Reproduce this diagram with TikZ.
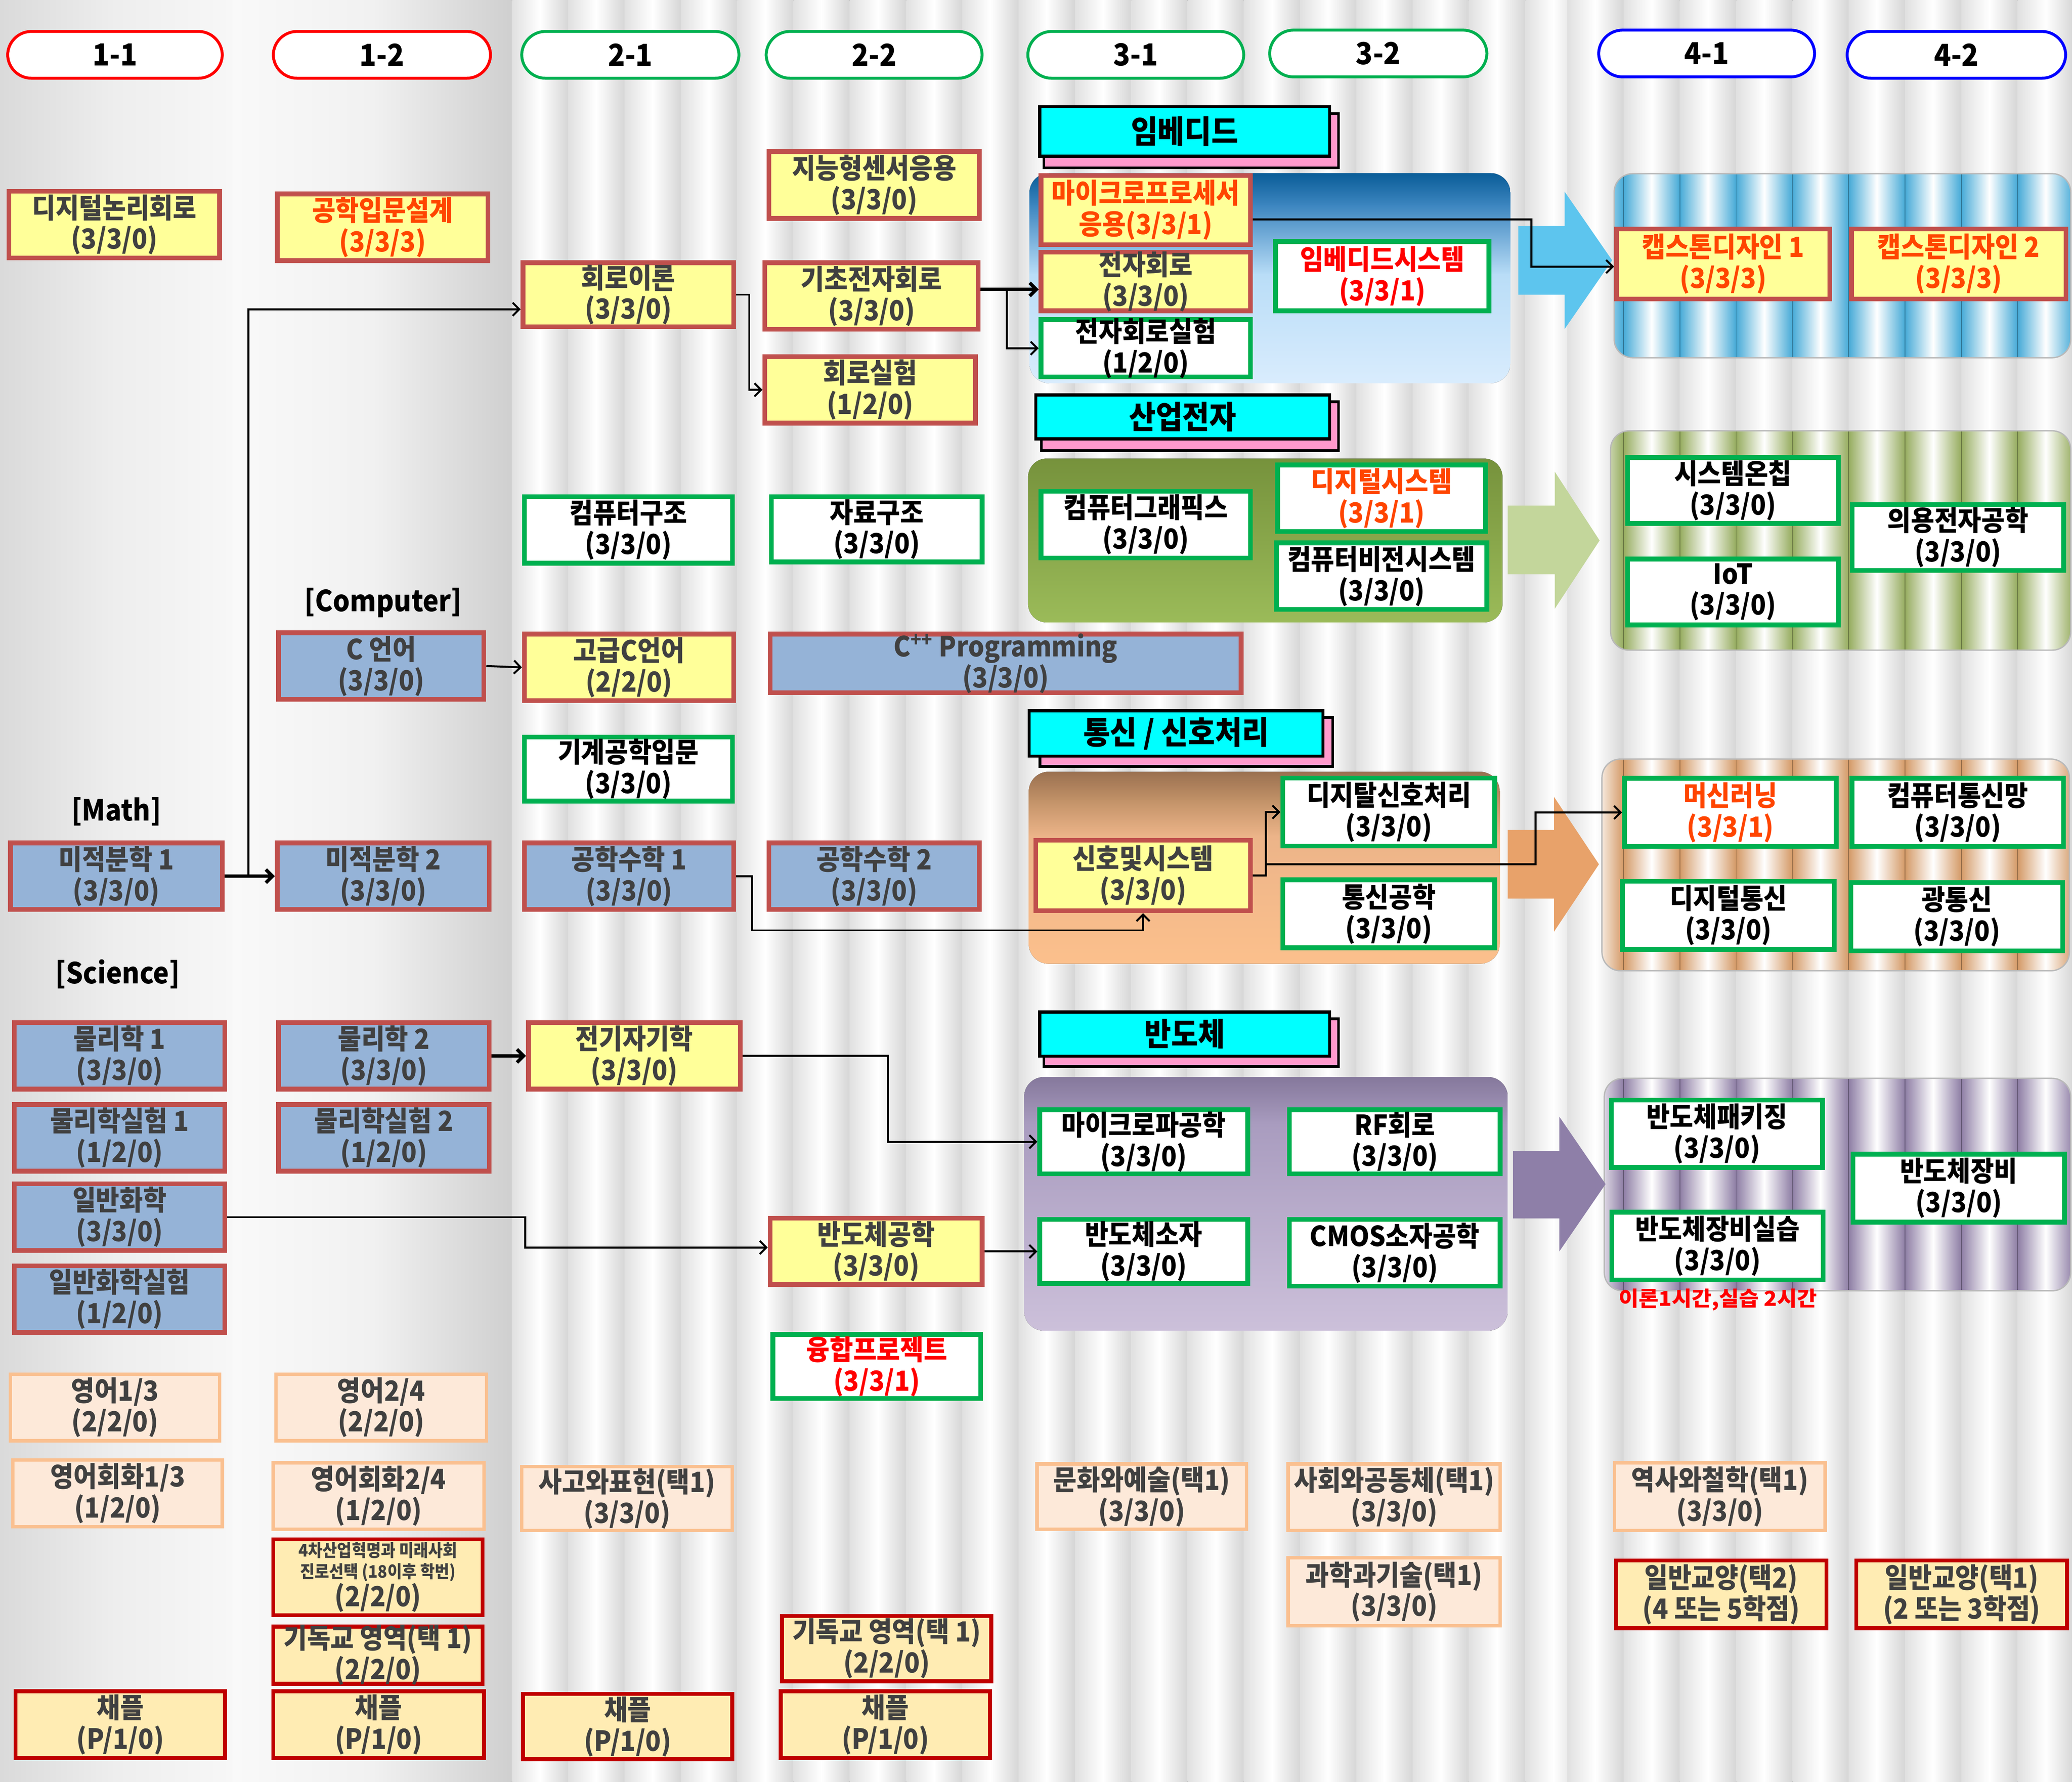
\documentclass[tikz,border=0pt]{standalone}
\usepackage{fontspec}
\setmainfont{Noto Sans CJK KR}[FakeStretch=0.92]
\usetikzlibrary{arrows.meta,calc}
\definecolor{ybox}{HTML}{FFFF99}
\definecolor{bbox}{HTML}{95B3D7}
\definecolor{brd}{HTML}{C0504D}
\definecolor{grn}{HTML}{00B050}
\definecolor{pfill}{HTML}{FDE9D9}
\definecolor{pbrd}{HTML}{FAC090}
\definecolor{cfill}{HTML}{FFECB3}
\definecolor{dred}{HTML}{C00000}
\definecolor{tgrey}{HTML}{404040}
\definecolor{ored}{HTML}{FF4500}
\definecolor{cyanh}{HTML}{00FFFF}
\definecolor{pinkh}{HTML}{FF99CC}
\definecolor{bgA}{HTML}{DADADA}
\definecolor{bgB}{HTML}{EEEEEE}
\definecolor{bgC}{HTML}{F7F7F7}
\definecolor{bgD}{HTML}{F9F9F9}
\definecolor{bgE}{HTML}{F1F1F1}
\definecolor{bgF}{HTML}{CFCFCF}
\definecolor{stA}{HTML}{E0E0E0}
\definecolor{stB}{HTML}{D6D6D6}
\definecolor{pnB}{RGB}{70,170,215}
\definecolor{pnG}{RGB}{150,172,95}
\definecolor{pnO}{RGB}{212,154,103}
\definecolor{pnP}{RGB}{142,126,165}
\definecolor{arB}{RGB}{93,197,238}
\definecolor{arG}{RGB}{195,214,155}
\definecolor{arO}{RGB}{232,162,106}
\definecolor{arP}{RGB}{142,127,168}
\newcommand\bx[7]{\node[#2, minimum width={#5-#3-3.6}, minimum height={#6-#4-3.6}] (#1) at ({(#3+#5)/2},{(#4+#6)/2}) {#7};}
\begin{document}
\begin{tikzpicture}[x=1pt,y=-1pt,
  box/.style={draw, align=center, inner xsep=1pt, inner ysep=-2pt, font=\bfseries\fontsize{21}{23.5}\selectfont, text=tgrey},
  tb/.style={box, execute at begin node={\rule{0pt}{24.5pt}}},
  yb/.style={tb, fill=ybox, draw=brd, line width=3.6pt},
  bb/.style={tb, fill=bbox, draw=brd, line width=3.6pt},
  gb/.style={tb, fill=white, draw=grn, line width=3.6pt, text=black},
  pb/.style={tb, fill=pfill, draw=pbrd, line width=2.6pt},
  cb/.style={tb, fill=cfill, draw=dred, line width=3pt},
  pill/.style={box, fill=white, line width=2.2pt, rounded corners=18pt, text=black, font=\bfseries\fontsize{23}{26}\selectfont},
  hdr/.style={box, fill=cyanh, draw=black, line width=2.4pt, text=black, font=\bfseries\fontsize{24}{27}\selectfont},
  shadowbox/.style={fill=pinkh, draw=black, line width=2pt},
  lbl/.style={font=\bfseries\fontsize{22}{25}\selectfont, text=black},
  conn/.style={line width=1.5pt, -{Straight Barb[length=5pt,width=10pt]}},
  connb/.style={line width=2.6pt, -{Straight Barb[length=5pt,width=10pt]}},
  panelline/.style={draw=gray!55, line width=1pt}
]
\useasboundingbox (0,0) rectangle (1568,1348.4);
% ---------- background ----------
\fill[left color=bgA, right color=bgC, middle color=bgB] (0,0) rectangle (176,1348.4);
\fill[left color=bgD, right color=bgF, middle color=bgE] (176,0) rectangle (388,1348.4);
\foreach \i in {0,...,18} {
  \fill[left color=stA, right color=stB, middle color=white] ({387.4+42.6*\i},0) rectangle ({387.4+42.6*(\i+1)},1348.4);
}
\foreach \i in {0,...,8} {
  \fill[left color=stA, right color=stB, middle color=white] ({1186+42.6*\i},0) rectangle ({1186+42.6*(\i+1)},1348.4);
}
% ---------- 3-x panels ----------
\begin{scope}
\clip[rounded corners=15pt] (779,131) rectangle (1143,290);
\fill[top color={rgb,255:red,10;green,93;blue,152}, bottom color={rgb,255:red,61;green,134;blue,192}] (779,131) rectangle (1143,156);
\fill[top color={rgb,255:red,61;green,134;blue,192}, bottom color={rgb,255:red,185;green,221;blue,247}] (779,155.5) rectangle (1143,208);
\fill[top color={rgb,255:red,185;green,221;blue,247}, bottom color={rgb,255:red,217;green,236;blue,253}] (779,207.5) rectangle (1143,290);
\end{scope}
\fill[rounded corners=14pt, top color={rgb,255:red,118;green,146;blue,60}, bottom color={rgb,255:red,155;green,187;blue,89}] (778,347) rectangle (1137,471);
\begin{scope}
\clip[rounded corners=15pt] (778.5,584) rectangle (1135,729.3);
\fill[top color={rgb,255:red,154;green,112;blue,80}, bottom color={rgb,255:red,194;green,146;blue,104}] (778,584) rectangle (1135,606);
\fill[top color={rgb,255:red,194;green,146;blue,104}, bottom color={rgb,255:red,236;green,180;blue,137}] (778,605.5) rectangle (1135,633);
\fill[top color={rgb,255:red,236;green,180;blue,137}, bottom color={rgb,255:red,252;green,192;blue,140}] (778,632.5) rectangle (1135,730);
\end{scope}
\begin{scope}
\clip[rounded corners=15pt] (775,815) rectangle (1141,1007);
\fill[top color={rgb,255:red,133;green,120;blue,156}, bottom color={rgb,255:red,169;green,156;blue,191}] (775,815) rectangle (1141,851);
\fill[top color={rgb,255:red,169;green,156;blue,191}, bottom color={rgb,255:red,204;green,192;blue,218}] (775,850.5) rectangle (1141,1007);
\end{scope}
% ---------- 4-x striped panels ----------
\foreach \x/\y/\xx/\yy/\c in {1221.5/131.4/1567/270.7/pnB, 1218.8/326/1567/492/pnG, 1212.3/574.4/1566/734.6/pnO, 1214/816/1567/976.8/pnP}{
  \begin{scope}
  \clip[rounded corners=14pt] (\x,\y) rectangle (\xx,\yy);
  \foreach \i in {-1,...,8} {
    \fill[left color=\c, right color=\c, middle color=white] ({1186+42.6*\i},\y) rectangle ({1186+42.6*(\i+1)},\yy);
    \draw[\c!70!black, line width=0.6pt] ({1186+42.6*\i},\y) -- ({1186+42.6*\i},\yy);
  }
  \end{scope}
  \draw[panelline, rounded corners=14pt] (\x,\y) rectangle (\xx,\yy);
}
% ---------- block arrows ----------
\fill[arB] (1149,171) -- (1184,171) -- (1184,145) -- (1220,197) -- (1184,249) -- (1184,223) -- (1149,223) -- cycle;
\fill[arG] (1141,382.6) -- (1176.6,382.6) -- (1176.6,357) -- (1210.5,409) -- (1176.6,460.6) -- (1176.6,434.5) -- (1141,434.5) -- cycle;
\fill[arO] (1141,628) -- (1176,628) -- (1176,603) -- (1210,654) -- (1176,705) -- (1176,680) -- (1141,680) -- cycle;
\fill[arP] (1145,871) -- (1180,871) -- (1180,845) -- (1215,896) -- (1180,947) -- (1180,922) -- (1145,922) -- cycle;
% ---------- semester pills ----------
\bx{p11}{pill,draw=red}{4}{22}{170}{61}{1-1}
\bx{p12}{pill,draw=red}{205}{22}{373}{61}{1-2}
\bx{p21}{pill,draw=grn}{393}{22}{561}{61}{2-1}
\bx{p22}{pill,draw=grn}{578}{22}{745}{61}{2-2}
\bx{p31}{pill,draw=grn}{776}{22}{943}{61}{3-1}
\bx{p32}{pill,draw=grn}{959}{21}{1127}{60}{3-2}
\bx{p41}{pill,draw=blue}{1208}{21}{1375}{60}{4-1}
\bx{p42}{pill,draw=blue}{1396}{22}{1565}{61}{4-2}
% ---------- track headers ----------
\draw[shadowbox] (790,86) rectangle (1013,127);
\bx{hemb}{hdr}{785}{79}{1008}{120}{임베디드}
\draw[shadowbox] (788,304) rectangle (1013,341);
\bx{hind}{hdr}{782}{297}{1008}{334}{산업전자}
\draw[shadowbox] (787,543) rectangle (1008.5,580);
\bx{htel}{hdr}{777}{536}{1003}{574}{통신 / 신호처리}
\draw[shadowbox] (790,771) rectangle (1013,807);
\bx{hsemi}{hdr}{785}{764}{1008}{801}{반도체}
% ---------- labels ----------
\node[lbl] (lmath) at (88,614) {[Math]};
\node[lbl] (lcomp) at (290,456) {[Computer]};
\node[lbl] (lsci) at (89,737) {[Science]};
% ---------- 1-1 ----------
\bx{dl}{yb}{5}{143}{168}{197}{디지털논리회로\\(3/3/0)}
\bx{calc1}{bb}{6}{636}{170}{690}{미적분학 1\\(3/3/0)}
\bx{phy1}{bb}{9}{772}{172}{826}{물리학 1\\(3/3/0)}
\bx{phyl1}{bb}{9}{834}{172}{888}{물리학실험 1\\(1/2/0)}
\bx{chem}{bb}{9}{894}{172}{948}{일반화학\\(3/3/0)}
\bx{cheml}{bb}{9}{956}{172}{1010}{일반화학실험\\(1/2/0)}
\bx{eng1}{pb}{6}{1038}{168}{1092}{영어1/3\\(2/2/0)}
\bx{conv1}{pb}{8}{1103}{170}{1157}{영어회화1/3\\(1/2/0)}
\bx{chap1}{cb}{10}{1278}{172}{1332}{채플\\(P/1/0)}
% ---------- 1-2 ----------
\bx{eid}{yb,text=ored}{208}{145}{371}{199}{공학입문설계\\(3/3/3)}
\bx{clang}{bb}{209}{477}{368}{531}{C 언어\\(3/3/0)}
\bx{calc2}{bb}{208}{636}{372}{690}{미적분학 2\\(3/3/0)}
\bx{phy2}{bb}{209}{772}{372}{826}{물리학 2\\(3/3/0)}
\bx{phyl2}{bb}{209}{834}{372}{888}{물리학실험 2\\(1/2/0)}
\bx{eng2}{pb}{207}{1038}{370}{1092}{영어2/4\\(2/2/0)}
\bx{conv2}{pb}{205}{1105}{368}{1159}{영어회화2/4\\(1/2/0)}
\bx{ind4}{cb,execute at begin node={}}{205}{1163}{367}{1224}{{\fontsize{13}{15}\selectfont 4차산업혁명과 미래사회}\\[-7.5pt]{\fontsize{13}{15}\selectfont 진로선택 (18이후 학번)}\\[-2pt](2/2/0)}
\bx{chr1}{cb}{205}{1229}{367}{1276}{기독교 영역(택 1)\\(2/2/0)}
\bx{chap2}{cb}{205}{1278}{368}{1332}{채플\\(P/1/0)}
% ---------- 2-1 ----------
\bx{ct}{yb}{394}{197}{557}{249}{회로이론\\(3/3/0)}
\bx{ca}{gb}{395}{374}{556}{428}{컴퓨터구조\\(3/3/0)}
\bx{advc}{yb}{395}{478}{557}{532}{고급C언어\\(2/2/0)}
\bx{mech}{gb}{395}{556}{556}{608}{기계공학입문\\(3/3/0)}
\bx{em1}{bb}{395}{636}{557}{690}{공학수학 1\\(3/3/0)}
\bx{emag}{yb}{398}{772}{562}{826}{전기자기학\\(3/3/0)}
\bx{think}{pb}{393}{1108}{556}{1160}{사고와표현(택1)\\(3/3/0)}
\bx{chap3}{cb}{394}{1280}{556}{1333}{채플\\(P/1/0)}
% ---------- 2-2 ----------
\bx{sens}{yb}{580}{113}{743}{167}{지능형센서응용\\(3/3/0)}
\bx{bec}{yb}{577}{197}{742}{251}{기초전자회로\\(3/3/0)}
\bx{cl}{yb}{577}{268}{740}{322}{회로실험\\(1/2/0)}
\bx{ds}{gb}{582}{374}{745}{427}{자료구조\\(3/3/0)}
\bx{cpp}{bb}{581}{478}{941}{526}{C\textsuperscript{++} Programming\\(3/3/0)}
\bx{em2}{bb}{580}{636}{743}{690}{공학수학 2\\(3/3/0)}
\bx{semi}{yb}{581}{920}{745}{974}{반도체공학\\(3/3/0)}
\bx{fus}{gb,text=red}{583}{1008}{744}{1060}{융합프로젝트\\(3/3/1)}
\bx{chr2}{cb}{590}{1221}{752}{1274}{기독교 영역(택 1)\\(2/2/0)}
\bx{chap4}{cb}{589}{1278}{751}{1332}{채플\\(P/1/0)}
% ---------- 3-x ----------
\bx{mp}{yb,text=ored}{786}{131}{948}{187}{마이크로프로세서\\응용(3/3/1)}
\bx{ec}{yb}{786}{189}{948}{237}{전자회로\\(3/3/0)}
\bx{ecl}{gb}{786}{240}{948}{287}{전자회로실험\\(1/2/0)}
\bx{es}{gb,text=red}{963.5}{181}{1128.6}{237}{임베디드시스템\\(3/3/1)}
\bx{cg}{gb}{786}{370}{948}{424}{컴퓨터그래픽스\\(3/3/0)}
\bx{dsys}{gb,text=ored}{965}{350}{1126}{404}{디지털시스템\\(3/3/1)}
\bx{cv}{gb}{964}{409}{1127}{463}{컴퓨터비전시스템\\(3/3/0)}
\bx{ss}{yb}{782}{634}{948}{691}{신호및시스템\\(3/3/0)}
\bx{dsp}{gb}{969}{587}{1133}{642}{디지탈신호처리\\(3/3/0)}
\bx{comm}{gb}{969}{664}{1133}{719}{통신공학\\(3/3/0)}
\bx{mw}{gb}{785}{838}{946}{890}{마이크로파공학\\(3/3/0)}
\bx{rf}{gb}{974}{838}{1137}{890}{RF회로\\(3/3/0)}
\bx{sd}{gb}{785}{921}{946}{973}{반도체소자\\(3/3/0)}
\bx{cmos}{gb}{974}{921}{1137}{975}{CMOS소자공학\\(3/3/0)}
\bx{cult}{pb}{783}{1106}{945}{1159}{문화와예술(택1)\\(3/3/0)}
\bx{soc}{pb}{973}{1106}{1137}{1160}{사회와공동체(택1)\\(3/3/0)}
\bx{sci}{pb}{973}{1177}{1137}{1232}{과학과기술(택1)\\(3/3/0)}
% ---------- 4-x ----------
\bx{cap1}{yb,text=ored}{1221.5}{171.5}{1386.5}{228}{캡스톤디자인 1\\(3/3/3)}
\bx{cap2}{yb,text=ored}{1399.3}{171.5}{1565.2}{228}{캡스톤디자인 2\\(3/3/3)}
\bx{soch}{gb}{1229.8}{344.4}{1393}{397.8}{시스템온칩\\(3/3/0)}
\bx{iot}{gb}{1229.8}{421.2}{1393}{474.7}{IoT\\(3/3/0)}
\bx{bio}{gb}{1399.8}{380}{1563.5}{433.4}{의용전자공학\\(3/3/0)}
\bx{ml}{gb,text=ored}{1227.5}{587.2}{1391.4}{642.3}{머신러닝\\(3/3/1)}
\bx{net}{gb}{1399.6}{587.2}{1563.4}{642.3}{컴퓨터통신망\\(3/3/0)}
\bx{dcom}{gb}{1226}{665}{1390}{720.2}{디지털통신\\(3/3/0)}
\bx{opt}{gb}{1398.9}{666}{1562.8}{721.3}{광통신\\(3/3/0)}
\bx{pkg}{gb}{1217.6}{830.6}{1381}{885.2}{반도체패키징\\(3/3/0)}
\bx{eql}{gb}{1218}{915.5}{1381.4}{970.3}{반도체장비실습\\(3/3/0)}
\bx{eq}{gb}{1400.4}{871.5}{1564.2}{926.6}{반도체장비\\(3/3/0)}
\bx{hist}{pb}{1220}{1105}{1383}{1160}{역사와철학(택1)\\(3/3/0)}
\bx{ge2}{cb}{1221}{1179}{1384}{1234}{일반교양(택2)\\(4 또는 5학점)}
\bx{ge1}{cb}{1403}{1179}{1566}{1234}{일반교양(택1)\\(2 또는 3학점)}
\node[font=\bfseries\fontsize{15.5}{17}\selectfont, text=red, inner sep=0pt] (note) at (1300,983.5) {\scalebox{1.15}[1]{이론1시간,실습 2시간}};
% ---------- connectors ----------
\draw[connb] (calc1.east) -- (calc2.west);
\draw[conn] (calc1.east) -- ++(18,0) |- ([yshift=-11pt]ct.west);
\draw[conn] (clang.east) -- (advc.west);
\draw[conn] (ct.east) -- ++(10,0) |- (cl.west);
\draw[connb] ([yshift=5pt]bec.east) -- ([yshift=5pt]bec.east -| ec.west);
\draw[conn] ([yshift=5pt]bec.east) -- ++(20,0) |- (ecl.west);
\draw[conn] ([yshift=-7pt]mp.east) -- ++(211,0) |- ([yshift=-2pt]cap1.west);
\draw[conn] (em1.east) -- ++(12,0) -- ++(0,41) -| (ss.south);
\draw[conn] (ss.east) -- ++(10,0) |- (dsp.west);
\coordinate (br) at ([xshift=10pt,yshift=8.5pt]ss.east);
\draw[conn] (br) -- ++(204,0) |- (ml.west);
\draw[connb] (phy2.east) -- (emag.west);
\draw[conn] (emag.east) -- ++(110,0) |- (mw.west);
\draw[conn] (chem.east) -- ++(225.6,0) |- ([yshift=3pt]semi.west);
\draw[conn] (semi.east) -- (sd.west);
\end{tikzpicture}
\end{document}
